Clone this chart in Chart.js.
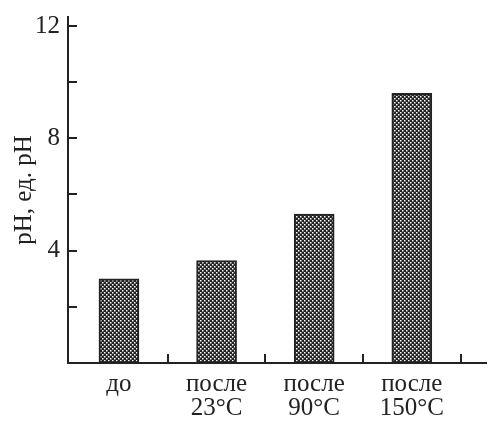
<!DOCTYPE html>
<html>
<head>
<meta charset="utf-8">
<script src="https://cdn.jsdelivr.net/npm/chart.js@4"></script>
<style>
  html, body { margin: 0; padding: 0; background: #fff; }
  #wrap { width: 488px; height: 421px; }
</style>
</head>
<body>
<div id="wrap"><canvas id="c" width="488" height="421"></canvas></div>
<script>
// Categories (two-line labels) and pH values
const categories = [["до"], ["после", "23°C"], ["после", "90°C"], ["после", "150°C"]];
const phValues = [3.0, 3.65, 5.3, 9.6];
const yTickValues = [0, 2, 4, 6, 8, 10, 12];
const yLabelValues = [4, 8, 12];
const yTitle = "pH, ед. pH";

const INK = "#222";
const FONT = "'Liberation Serif', 'Times New Roman', serif";
const TICK_LEN = 9;

// Fine cross-hatch fill for the bars
function makeHatch() {
  const t = document.createElement("canvas");
  t.width = 4; t.height = 4;
  const g = t.getContext("2d");
  g.fillStyle = "#232323";
  g.fillRect(0, 0, 4, 4);
  g.fillStyle = "#ffffff";
  g.fillRect(0, 0, 1.5, 1.5);
  g.fillRect(2, 2, 1.5, 1.5);
  return document.getElementById("c").getContext("2d").createPattern(t, "repeat");
}

const points = phValues.map((v, i) => ({ x: i + 1, y: v }));
// category positions on the x axis plus the separators between them
const xTickValues = [];
categories.forEach((_, i) => { xTickValues.push(i + 1, i + 1.5); });

// Tick marks pointing into the plot area
const inwardTicks = {
  id: "inwardTicks",
  afterDraw(chart) {
    const { ctx, scales: { x, y } } = chart;
    ctx.save();
    ctx.strokeStyle = INK;
    ctx.lineWidth = 2;
    ctx.beginPath();
    x.ticks.forEach(t => {
      if (t.value % 1 === 0) return;
      const px = Math.round(x.getPixelForValue(t.value));
      ctx.moveTo(px, y.bottom);
      ctx.lineTo(px, y.bottom - TICK_LEN);
    });
    y.ticks.forEach(t => {
      const py = Math.round(y.getPixelForValue(t.value));
      ctx.moveTo(x.left, py);
      ctx.lineTo(x.left + TICK_LEN, py);
    });
    ctx.stroke();
    ctx.restore();
  }
};

new Chart(document.getElementById("c"), {
  type: "bar",
  data: {
    datasets: [{
      data: points,
      backgroundColor: makeHatch(),
      borderColor: INK,
      borderWidth: 2,
      borderSkipped: false,
      barThickness: 40
    }]
  },
  plugins: [inwardTicks],
  options: {
    responsive: false,
    animation: false,
    layout: { padding: { top: 0, right: 2, left: 0, bottom: 0 } },
    plugins: { legend: { display: false }, tooltip: { enabled: false } },
    scales: {
      x: {
        type: "linear",
        offset: false,
        min: 0.478,
        max: 4.76,
        afterBuildTicks: s => { s.ticks = xTickValues.map(v => ({ value: v })); },
        afterFit: s => { s.height = 58; },
        border: { display: true, color: INK, width: 2 },
        grid: { display: false, drawTicks: false },
        ticks: {
          autoSkip: false,
          maxRotation: 0,
          padding: 9,
          color: INK,
          font: { family: FONT, size: 25, lineHeight: 0.96 },
          callback: v => (v % 1 === 0 ? categories[v - 1] : "")
        }
      },
      y: {
        min: 0,
        max: 12.32,
        afterBuildTicks: s => { s.ticks = yTickValues.map(v => ({ value: v })); },
        afterFit: s => { s.width = 68; },
        border: { display: true, color: INK, width: 2 },
        grid: { display: false, drawTicks: false },
        ticks: {
          padding: 8,
          color: INK,
          font: { family: FONT, size: 25, lineHeight: 0.72 },
          callback: v => (yLabelValues.includes(v) ? String(v) : "")
        },
        title: {
          display: true,
          text: yTitle,
          color: INK,
          font: { family: FONT, size: 25, lineHeight: 1.2 },
          padding: { top: 9, bottom: 0 }
        }
      }
    }
  }
});
</script>
</body>
</html>
